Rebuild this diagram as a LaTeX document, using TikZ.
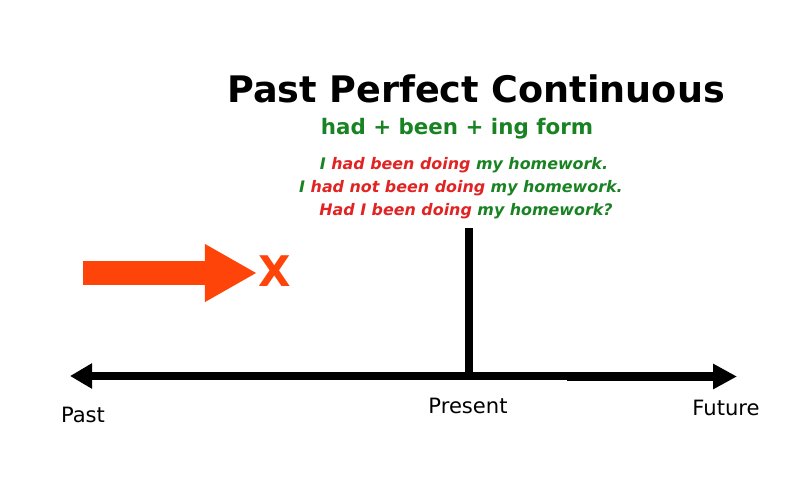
\documentclass[tikz,border=0pt]{standalone}
\usepackage{fontspec}
\setmainfont{DejaVu Sans}
\usetikzlibrary{arrows.meta}
\definecolor{tred}{RGB}{225,35,35}
\definecolor{tgreen}{RGB}{25,130,35}
\definecolor{torange}{RGB}{255,68,10}
\newcommand{\rd}[1]{\textcolor{tred}{#1}}
\newcommand{\gr}[1]{\textcolor{tgreen}{#1}}

\begin{document}
\begin{tikzpicture}[x=.025cm, y=-.025cm,
  lbl/.style={font=\fontsize{15}{18}\selectfont, anchor=base, inner sep=0},
  sent/.style={font=\fontsize{11.3}{13}\selectfont\bfseries\itshape, anchor=base, inner sep=0},
  tline/.style={line width=.19cm}]
\useasboundingbox (0,0) rectangle (800,500);
\node[anchor=base, inner sep=0, font=\fontsize{26}{30}\selectfont\bfseries] (title) at (476,102) {Past Perfect Continuous};
\node[anchor=base, inner sep=0, font=\fontsize{15.2}{18}\selectfont\bfseries, text=tgreen] (form) at (457,134) {had + been + ing form};
\node[sent] (s1) at (464,169) {\gr{I} \rd{had been doing} \gr{my homework.}};
\node[sent] (s2) at (461,192) {\gr{I} \rd{had not been doing} \gr{my homework.}};
\node[sent] (s3) at (466,215) {\rd{Had I been doing} \gr{my homework?}};
% arrow towards the X
\node[inner sep=0, font=\fontsize{30}{34}\selectfont\bfseries, text=torange] (cross) at (275,271) {X};
\coordinate (start) at (83,273);
\draw[torange, line width=.6cm, -{Triangle[length=1.3cm, width=1.35cm]}] (start) -- (257,273);
% time line
\coordinate (pastend) at (70,376);
\coordinate (mid) at (567,376);
\coordinate (futend) at (737,376.5);
\coordinate (top) at (469,228);
\draw[tline, {Triangle[length=.55cm, width=.6cm]}-] (pastend) -- (mid);
\draw[tline, line width=.22cm, -{Triangle[length=.6cm, width=.6cm]}] (mid |- futend) -- (futend);
\draw[line width=.2cm] (top) -- (top |- pastend);
\node[lbl] (past) at (83,422) {Past};
\node[lbl] (present) at (468,413) {Present};
\node[lbl] (future) at (726,415) {Future};
\end{tikzpicture}
\end{document}
